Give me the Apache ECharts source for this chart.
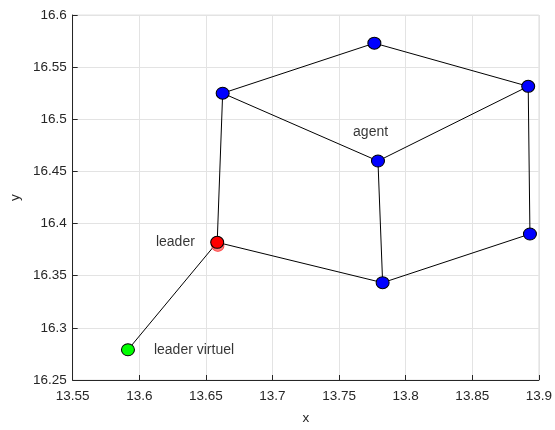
<!DOCTYPE html>
<html>
<head>
<meta charset="utf-8">
<script src="https://cdn.jsdelivr.net/npm/echarts@6/dist/echarts.min.js"></script>
<style>html,body{margin:0;padding:0;background:#fff;}#c{width:555px;height:430px;}</style>
</head>
<body>
<div id="c"></div>
<script>
// Agent positions [x, y]
const agents = [
  [13.6626, 16.525],  // 0 top-left
  [13.7765, 16.573],  // 1 top
  [13.892, 16.5316],  // 2 right-top
  [13.7792, 16.460],  // 3 middle
  [13.7827, 16.3433], // 4 bottom
  [13.8933, 16.390]   // 5 right-bottom
];
const leader = [13.6585, 16.382];
const leaderTrace = [13.659, 16.3786];
const leaderVirtual = [13.5915, 16.279];
// Edges: 'L' = leader, 'V' = virtual leader, numbers = agent index
const edges = [
  ['V', 'L'], ['L', 0], ['L', 4], [0, 1], [0, 3], [1, 2], [3, 2], [3, 4], [2, 5], [4, 5]
];
const xTicks = { min: 13.55, max: 13.9, interval: 0.05 };
const yTicks = { min: 16.25, max: 16.6, interval: 0.05 };
const texts = [
  { text: 'agent', pos: [13.7605, 16.488] },
  { text: 'leader', pos: [13.6125, 16.382] },
  { text: 'leader virtuel', pos: [13.611, 16.279] }
];

function pt(k) { return k === 'L' ? leader : (k === 'V' ? leaderVirtual : agents[k]); }
const edgeData = [];
edges.forEach((e, i) => {
  if (i > 0) edgeData.push('-');
  edgeData.push(pt(e[0]), pt(e[1]));
});

const font = 'Liberation Sans, Arial, Helvetica, sans-serif';
const chart = echarts.init(document.getElementById('c'));
chart.setOption({
  animation: false,
  backgroundColor: '#fff',
  grid: { left: 72, right: 13, top: 15, bottom: 45, show: true, borderColor: '#e3e3e3', borderWidth: 1 },
  xAxis: {
    type: 'value', min: xTicks.min, max: xTicks.max, interval: xTicks.interval,
    name: 'x', nameLocation: 'middle', nameGap: 31,
    nameTextStyle: { color: '#262626', fontSize: 13.5, fontFamily: font },
    axisLine: { show: true, onZero: false, lineStyle: { color: '#262626', width: 1 } },
    axisTick: { show: true, inside: true, length: 5, lineStyle: { color: '#262626' } },
    axisLabel: { color: '#262626', fontSize: 13.5, fontFamily: font, margin: 9 },
    splitLine: { show: true, lineStyle: { color: '#e3e3e3', width: 1 } }
  },
  yAxis: {
    type: 'value', min: yTicks.min, max: yTicks.max, interval: yTicks.interval,
    name: 'y', nameLocation: 'middle', nameGap: 50,
    nameTextStyle: { color: '#262626', fontSize: 13.5, fontFamily: font },
    axisLine: { show: true, onZero: false, lineStyle: { color: '#262626', width: 1 } },
    axisTick: { show: true, inside: true, length: 5, lineStyle: { color: '#262626' } },
    axisLabel: { color: '#262626', fontSize: 13.5, fontFamily: font, margin: 6 },
    splitLine: { show: true, lineStyle: { color: '#e3e3e3', width: 1 } }
  },
  series: [
    {
      type: 'line', data: edgeData, connectNulls: false, showSymbol: false, symbol: 'none',
      lineStyle: { color: '#000', width: 1 }, z: 2, silent: true
    },
    {
      type: 'scatter', data: [leaderTrace], symbol: 'circle', symbolSize: [12, 11],
      itemStyle: { color: '#ff8080', borderColor: '#ff4040', borderWidth: 1, opacity: 1 }, z: 3
    },
    {
      type: 'scatter', data: agents, symbol: 'circle', symbolSize: [13, 12],
      itemStyle: { color: '#0000ff', borderColor: '#000', borderWidth: 1, opacity: 1 }, z: 4
    },
    {
      type: 'scatter', data: [leader], symbol: 'circle', symbolSize: [13, 12],
      itemStyle: { color: '#ff0000', borderColor: '#000', borderWidth: 1, opacity: 1 }, z: 4
    },
    {
      type: 'scatter', data: [leaderVirtual], symbol: 'circle', symbolSize: [13, 12],
      itemStyle: { color: '#00ff00', borderColor: '#000', borderWidth: 1, opacity: 1 }, z: 4
    },
    {
      type: 'scatter', symbolSize: 0, z: 5, silent: true,
      data: texts.map(t => ({ value: t.pos, name: t.text })),
      label: {
        show: true, position: 'right', distance: 0, formatter: p => p.name,
        color: '#000', fontSize: 14, fontFamily: font
      }
    }
  ]
});
</script>
</body>
</html>
